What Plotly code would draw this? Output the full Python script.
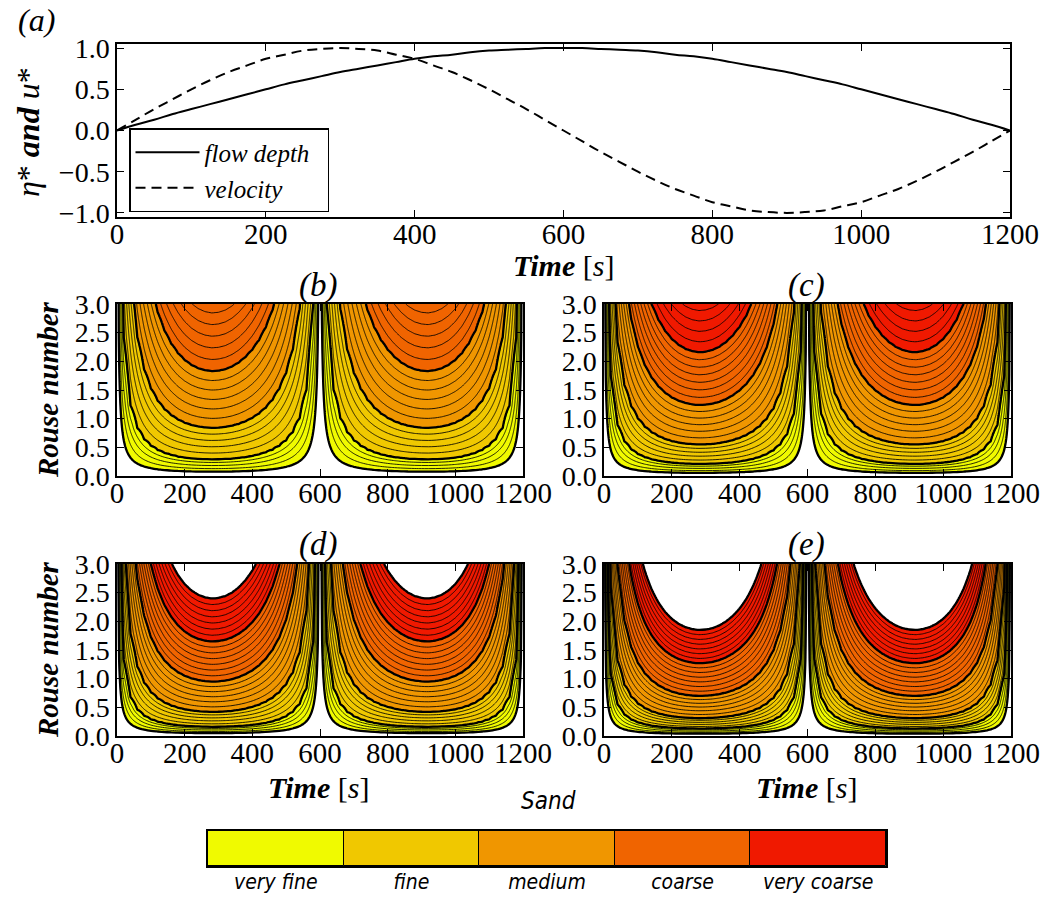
import numpy as np
import plotly.graph_objects as go

W, H = 1042, 897

# ---------------- panel (a): normalised flow depth and velocity ----------------
time_a = list(range(0, 1201, 25))
flow_depth = [0, .07, .13, .2, .26, .32, .38, .44, .5, .56, .61, .66, .71, .75, .79, .83, .87, .9, .92, .95,
              .97, .98, .99, 1.0, 1.0,
              1.0, .99, .98, .97, .95, .92, .9, .87, .83, .79, .75, .71, .66, .61, .56, .5, .44, .38, .32,
              .26, .2, .13, .07, 0]
velocity = [0, .13, .26, .38, .5, .61, .71, .79, .87, .92, .97, .99, 1.0, .99, .97, .92, .87, .79, .71, .61,
            .5, .38, .26, .13, 0,
            -.13, -.26, -.38, -.5, -.61, -.71, -.79, -.87, -.92, -.97, -.99, -1.0, -.99, -.97, -.92, -.87,
            -.79, -.71, -.61, -.5, -.38, -.26, -.13, 0]

# ---------------- panels (b)-(e): Rouse number maps ----------------
# normalised shear velocity over half a cycle (second half mirrors the first)
shear_t = list(range(0, 601, 20))
shear_f = [0, .12, .236, .347, .452, .55, .64, .721, .792, .854, .905, .945, .974, .992, 1.0, .996,
           .983, .959, .925, .882, .831, .772, .705, .632, .552, .468, .38, .288, .193, .097, 0]

class_names = ["very fine", "fine", "medium", "coarse", "very coarse"]
class_colors = ["#F0FA00", "#F0C800", "#F09600", "#F06400", "#F01900"]
sub_bands = [4, 5, 6, 7, 7]

panel_labels = ["(b)", "(c)", "(d)", "(e)"]
# Rouse number of each sand-class boundary at peak shear velocity
bounds_b = [0.075, 0.29, 0.84, 1.83, 3.25, 5.06]
bounds_c = [0.055, 0.21, 0.55, 1.24, 2.16, 3.43]
bounds_d = [0.05, 0.16, 0.42, 0.95, 1.65, 2.40]
bounds_e = [0.04, 0.13, 0.31, 0.70, 1.27, 1.85]
panel_bounds = [bounds_b, bounds_c, bounds_d, bounds_e]

rouse_axis = np.linspace(0, 3, 301)

t_full = np.array(shear_t + [1200 - t for t in shear_t[-2::-1]], float)
f_full = np.array(shear_f + shear_f[-2::-1], float)


def interp_ext(v, xs, ys):
    xs = np.asarray(xs, float)
    ys = np.asarray(ys, float)
    out = np.interp(v, xs, ys)
    lo = v < xs[0]
    out[lo] = ys[0] + (v[lo] - xs[0]) * (ys[1] - ys[0]) / (xs[1] - xs[0])
    hi = v > xs[-1]
    out[hi] = ys[-1] + (v[hi] - xs[-1]) * (ys[-1] - ys[-2]) / (xs[-1] - xs[-2])
    return out


def sub_levels(b):
    lev = []
    for k, n in enumerate(sub_bands):
        for j in range(n):
            lev.append(b[k] + (b[k + 1] - b[k]) * j / n)
    lev.append(b[-1])
    return lev


L = sum(sub_bands)
band_cols = []
for k, n in enumerate(sub_bands):
    band_cols += [class_colors[k]] * n
slots = ["#FFFFFF"] + band_cols + ["#FFFFFF"]
cscale = []
for j, col in enumerate(slots):
    lo = max(0.0, (j - 0.5) / (L + 1))
    hi = min(1.0, (j + 0.5) / (L + 1))
    cscale.append([lo, col])
    cscale.append([hi, col])


def px(x):
    return x / W


def py(y):
    return 1 - y / H


SERIF = "Liberation Serif"
SANS = "DejaVu Sans Condensed, Liberation Sans Narrow, Open Sans, sans-serif"

fig = go.Figure()

# panel (a)
fig.add_trace(go.Scatter(x=time_a, y=flow_depth, mode="lines", name="flow depth\u00a0\u00a0",
                         line=dict(color="black", width=2, shape="spline"), xaxis="x", yaxis="y",
                         hoverinfo="skip"))
fig.add_trace(go.Scatter(x=time_a, y=velocity, mode="lines", name="velocity",
                         line=dict(color="black", width=2, dash="10px,6px", shape="spline"),
                         xaxis="x", yaxis="y", hoverinfo="skip"))

PP, FF = np.meshgrid(rouse_axis, f_full, indexing="ij")
V = PP * FF

axis_ids = [("x2", "y2"), ("x3", "y3"), ("x4", "y4"), ("x5", "y5")]
for (xa, ya), b in zip(axis_ids, panel_bounds):
    lev = sub_levels(b)
    idx = np.round(interp_ext(V, lev, np.arange(L + 1)), 3)
    cls = np.round(interp_ext(V, b, np.arange(6)), 3)
    fig.add_trace(go.Contour(x=t_full, y=rouse_axis, z=idx, autocontour=False,
                             contours=dict(start=0, end=L, size=1, coloring="fill", showlines=True),
                             line=dict(color="black", width=0.85), colorscale=cscale,
                             zmin=-0.5, zmax=L + 0.5, zauto=False, showscale=False,
                             hoverinfo="skip", xaxis=xa, yaxis=ya, showlegend=False))
    fig.add_trace(go.Contour(x=t_full, y=rouse_axis, z=cls, autocontour=False,
                             contours=dict(start=0, end=5, size=1, coloring="none"),
                             line=dict(color="black", width=2.3), showscale=False,
                             hoverinfo="skip", xaxis=xa, yaxis=ya, showlegend=False))

# colour key
fig.add_trace(go.Bar(x=class_names, y=[1] * 5, marker=dict(color=class_colors,
                     line=dict(color="black", width=1)), width=1, xaxis="x6", yaxis="y6",
                     showlegend=False, hoverinfo="skip"))

common = dict(showline=True, linecolor="black", linewidth=1.5, mirror="allticks", ticks="inside",
              ticklen=7, tickwidth=1, tickcolor="black", showgrid=False, zeroline=False,
              automargin=False)
xfont = dict(family=SERIF, size=29, color="black")
yfont = dict(family=SERIF, size=28, color="black")

layout = dict(
    width=W, height=H, autosize=False, margin=dict(l=0, r=0, t=0, b=0, pad=0, autoexpand=False),
    paper_bgcolor="white", plot_bgcolor="white", bargap=0,
    showlegend=True,
    legend=dict(x=px(129), y=py(128), xanchor="left", yanchor="top", bordercolor="black",
                borderwidth=1.5, bgcolor="white",
                font=dict(family=SERIF, size=25, style="italic", color="black"),
                itemwidth=64, tracegroupgap=0),
    xaxis=dict(domain=[px(117), px(1010)], range=[0, 1200], tickvals=list(range(0, 1201, 200)),
               anchor="y", ticklabelstandoff=-10, tickfont=xfont, **common),
    yaxis=dict(domain=[py(217), py(44)], range=[-1.05, 1.05], tickvals=[-1, -0.5, 0, 0.5, 1],
               tickformat=".1f", anchor="x", tickfont=yfont, **common),
)
doms = {
    "2": ([px(117), px(523)], [py(476), py(304)]),
    "3": ([px(604), px(1011)], [py(476), py(304)]),
    "4": ([px(117), px(523)], [py(736), py(564)]),
    "5": ([px(604), px(1011)], [py(736), py(564)]),
}
for k, (dx, dy) in doms.items():
    layout["xaxis" + k] = dict(domain=dx, range=[0, 1200], tickvals=list(range(0, 1201, 200)),
                               anchor="y" + k, ticklabelstandoff=-10, tickfont=xfont, **common)
    layout["yaxis" + k] = dict(domain=dy, range=[0, 3], tickvals=[0, 0.5, 1, 1.5, 2, 2.5, 3],
                               tickformat=".1f", anchor="x" + k, tickfont=yfont, **common)
layout["xaxis6"] = dict(domain=[px(208), px(886)], type="category", anchor="y6", showline=True,
                        linecolor="black", linewidth=1.5, mirror=True, ticks="", showgrid=False,
                        tickfont=dict(family=SANS, size=21, style="italic", color="black"),
                        range=[-0.5, 4.5], automargin=False, ticklabelstandoff=-4)
layout["yaxis6"] = dict(domain=[py(866), py(831)], range=[0, 1], showticklabels=False, ticks="",
                        showline=True, linecolor="black", linewidth=1.5, mirror=True,
                        showgrid=False, zeroline=False, anchor="x6", automargin=False)
fig.update_layout(**layout)

ann = []


def add_text(x, y, text, size=30, angle=0, family=SERIF):
    ann.append(dict(x=px(x), y=py(y), xref="paper", yref="paper", text=text, showarrow=False,
                    xanchor="center", yanchor="middle", textangle=angle,
                    font=dict(family=family, size=size, color="black")))


add_text(36, 20, "<i>(a)</i>", 32)
for lab, (x, y) in zip(panel_labels, [(318, 285), (806, 285), (318, 544), (806, 544)]):
    add_text(x, y, "<i>" + lab + "</i>", 33)
add_text(28, 132, "<i>η</i>* <b><i>and</i></b> <i>u</i>*", 32, -90)
add_text(563, 266, "<b><i>Time</i></b> [<i>s</i>]", 30)
add_text(318, 787, "<b><i>Time</i></b> [<i>s</i>]", 30)
add_text(806, 787, "<b><i>Time</i></b> [<i>s</i>]", 30)
add_text(48, 390, "<b><i>Rouse number</i></b>", 29, -90)
add_text(48, 650, "<b><i>Rouse number</i></b>", 29, -90)
add_text(548, 801, "<i>Sand</i>", 24, 0, SANS)
fig.update_layout(annotations=ann)

fig.write_html("out.html")
